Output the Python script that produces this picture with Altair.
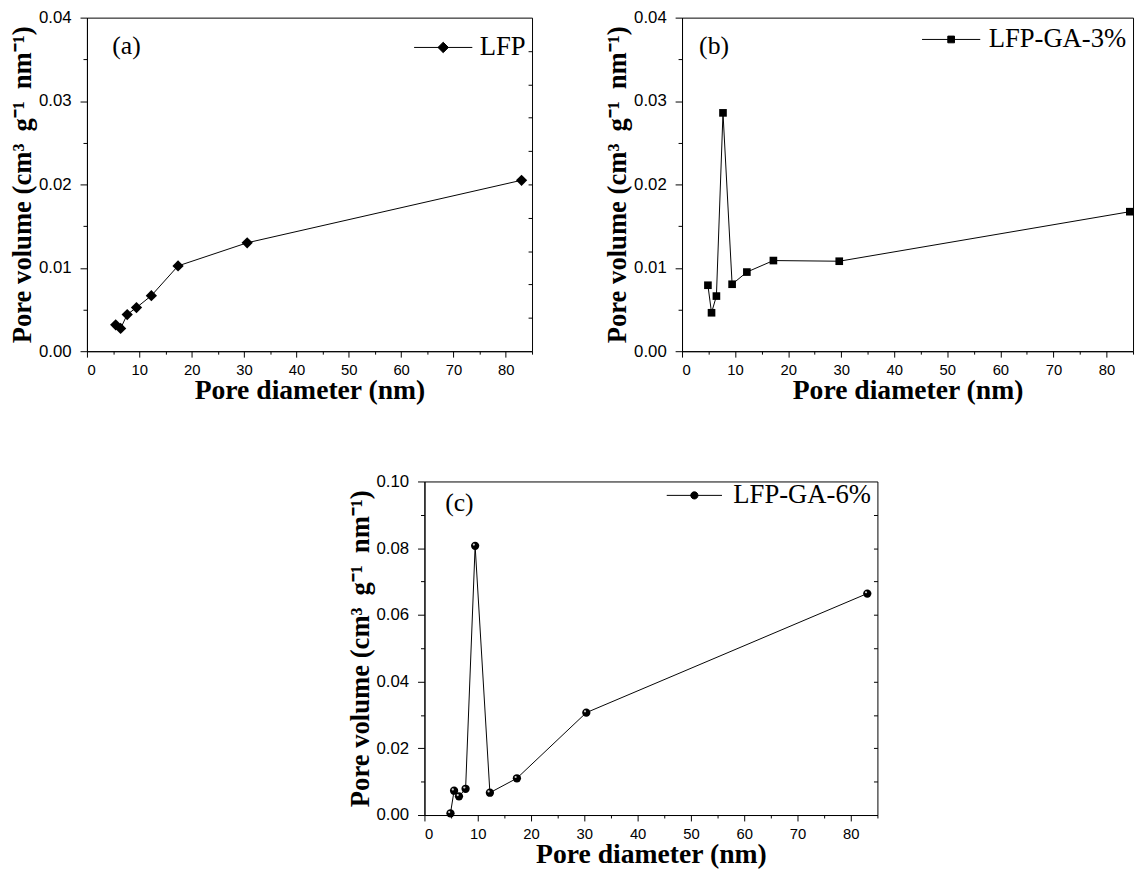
import altair as alt
import pandas as pd

# ---------------- data ----------------
lfp_diam = [5.49, 6.43, 7.69, 9.46, 12.3, 17.4, 30.6, 83.0]
lfp_vol = [0.00317, 0.00273, 0.00440, 0.00523, 0.00666, 0.01023, 0.0130, 0.0205]

ga3_diam = [4.88, 5.56, 6.48, 7.72, 9.44, 12.22, 17.22, 29.63, 84.4]
ga3_vol = [0.00791, 0.00461, 0.00661, 0.02858, 0.00803, 0.00949, 0.01087, 0.01079, 0.01673]

ga6_diam = [4.88, 5.56, 6.48, 7.72, 9.51, 12.28, 17.35, 30.37, 83.1]
ga6_vol = [0.0005, 0.00728, 0.00561, 0.00787, 0.0807, 0.00669, 0.01102, 0.0307, 0.0664]

series_names = ["LFP", "LFP-GA-3%", "LFP-GA-6%"]
panel_labels = ["(a)", "(b)", "(c)"]
x_title = "Pore diameter (nm)"
y_title = "Pore volume (cm³\u2009 g⁻¹\u2009 nm⁻¹)"

SERIF = "Liberation Serif"
SANS = "Liberation Sans"

# legend symbols: a line with the marker in the middle
PATH_DIAMOND = "M-1,0H1M-0.18,0L0,-0.18L0.18,0L0,0.18Z"
PATH_SQUARE = "M-1,0H1M-0.115,-0.115H0.115V0.115H-0.115Z"
PATH_CIRCLE = "M-1,0H1M-0.13,0A0.13,0.13 0 1,0 0.13,0A0.13,0.13 0 1,0 -0.13,0Z"


def make_panel(diam, vol, name, label, shape, msize, ymax, ymajor, yminor,
               lpath, lsize, lx, ly, loff, tx, ty, w, h, right_step=None, sphere=False):
    df = pd.DataFrame({"d": diam, "v": vol, "s": name})
    xvals = list(range(0, 86, 5))
    xtest = "datum.value % 10 === 0"
    nmin = int(round(ymax / yminor))
    yvals = [round(i * yminor, 4) for i in range(nmin + 1)]
    ratio = int(round(ymajor / yminor))
    ytest = f"round(datum.value / {yminor}) % {ratio} === 0"

    x = alt.X(
        "d:Q", title=x_title,
        scale=alt.Scale(domain=[0, 85], nice=False, zero=False),
        axis=alt.Axis(values=xvals, format="d",
                      labelExpr=f"({xtest}) ? datum.label : ''",
                      tickSize={"condition": {"test": xtest, "value": 6}, "value": 3},
                      labelFontSize=15, labelPadding=6, titlePadding=-1),
    )
    yscale = alt.Scale(domain=[0, ymax], nice=False, zero=True)
    y = alt.Y(
        "v:Q", title=y_title, scale=yscale,
        axis=alt.Axis(values=yvals, format=".2f",
                      labelExpr=f"({ytest}) ? datum.label : ''",
                      tickSize={"condition": {"test": ytest, "value": 7}, "value": 4},
                      labelFontSize=17, labelPadding=9, titlePadding=2,
                      titleFontSize=27),
    )
    y_plain = alt.Y("v:Q", scale=yscale, axis=None)

    line = alt.Chart(df).mark_line(color="black", strokeWidth=1).encode(x=x, y=y)
    pts = alt.Chart(df).mark_point(shape=shape, filled=True, size=msize, opacity=1).encode(
        x=x, y=y_plain,
        color=alt.Color(
            "s:N", scale=alt.Scale(range=["black"]),
            legend=alt.Legend(title=None, orient="none", legendX=lx, legendY=ly,
                              symbolType=lpath, symbolSize=lsize,
                              symbolFillColor="black", symbolStrokeColor="black",
                              symbolStrokeWidth=1, symbolOpacity=1,
                              labelFont=SERIF, labelFontSize=27, labelColor="black",
                              labelOffset=loff, padding=0, labelLimit=400),
        ),
    )
    layers = [line, pts]
    if sphere:
        hl = alt.Chart(df).mark_point(shape="circle", filled=True, size=5, opacity=1,
                                      color="#d0d0d0", xOffset=-1.3, yOffset=-1.3
                                      ).encode(x=x, y=y_plain)
        layers.append(hl)
    if right_step is not None:
        n_r = int(round(ymax / right_step))
        rvals = [round(i * right_step, 4) for i in range(1, n_r)]
        rt = alt.Chart(df).mark_point(opacity=0).encode(
            x=x,
            y=alt.Y("v:Q", scale=yscale,
                    axis=alt.Axis(orient="right", values=rvals, labels=False, domain=False,
                                  ticks=True, tickSize=4, offset=-4, title=None, grid=False)),
        )
        layers.append(rt)
    txt = alt.Chart(pd.DataFrame({"t": [label]})).mark_text(
        font=SERIF, fontSize=26, align="left", baseline="middle", color="black"
    ).encode(x=alt.value(tx), y=alt.value(ty), text="t:N")
    layers.append(txt)
    return alt.layer(*layers).resolve_axis(y="independent").properties(width=w, height=h)


pa = make_panel(lfp_diam, lfp_vol, series_names[0], panel_labels[0], "diamond", 130,
                0.04, 0.01, 0.005, PATH_DIAMOND, 3481, 331, 0.2, 7, 25.7, 29.2, 451, 338,
                right_step=0.004)
pb = make_panel(ga3_diam, ga3_vol, series_names[1], panel_labels[1], "square", 60,
                0.04, 0.01, 0.005, PATH_SQUARE, 3481, 242.7, -7.9, 8, 17.3, 28.7, 457, 338)
pc = make_panel(ga6_diam, ga6_vol, series_names[2], panel_labels[2], "circle", 70,
                0.1, 0.02, 0.01, PATH_CIRCLE, 3136, 245, -14.4, 11, 21, 22, 459, 338,
                right_step=0.01, sphere=True)

spacer = alt.Chart(pd.DataFrame({"d": [0]})).mark_point(opacity=0).encode(
    x=alt.X("d:Q", axis=None), y=alt.Y("d:Q", axis=None)
).properties(width=342, height=338, view=alt.ViewBackground(stroke="transparent"))

top = alt.hconcat(pa, pb, spacing=152, bounds="flush").resolve_scale(color="independent")
bottom = alt.hconcat(spacer, pc, spacing=0, bounds="flush").resolve_scale(color="independent")

chart = alt.vconcat(top, bottom, spacing=470, bounds="flush").resolve_scale(
    color="independent"
).properties(
    padding={"left": 0, "top": -6, "right": 0, "bottom": 0}
).configure_view(
    stroke="black", strokeWidth=1
).configure_axis(
    domainColor="black", tickColor="black", labelColor="black", grid=False,
    labelFont=SANS, labelFontSize=16, titleFont=SERIF, titleFontWeight="bold",
    titleFontSize=28, titleColor="black", domainWidth=1, tickWidth=1,
)

chart.save("out.html", embed_options={"renderer": "svg", "actions": False})
